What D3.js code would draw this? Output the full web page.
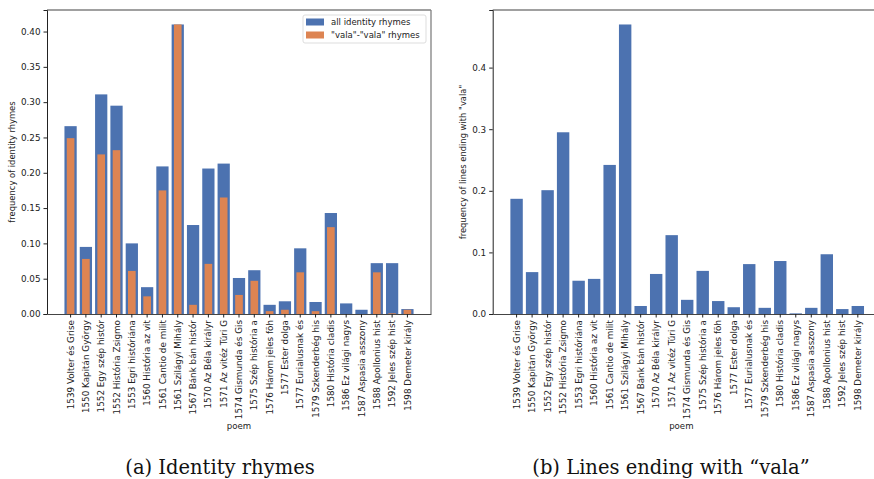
<!DOCTYPE html>
<html>
<head>
<meta charset="utf-8">
<script src="https://cdn.jsdelivr.net/npm/d3@7"></script>
<style>
  body { margin: 0; background: #fff; }
  svg { display: block; font-family: "DejaVu Sans", sans-serif; }
  .caption { font-family: "DejaVu Serif", "Liberation Serif", serif; font-size: 19.5px; fill: #111; }
</style>
</head>
<body>
<svg id="chart" width="874" height="479"></svg>
<script>
// poem titles (truncated as in the original figure)
const poems = [
  "1539 Volter és Grise", "1550 Kapitán György", "1552 Egy szép histór",
  "1552 História Zsigmo", "1553 Egri históriána", "1560 História az vit",
  "1561 Cantio de milit", "1561 Szilágyi Mihály", "1567 Bánk bán histór",
  "1570 Az Béla királyr", "1571 Az vitéz Túri G", "1574 Gismunda és Gis",
  "1575 Szép história a", "1576 Három jeles fõh", "1577 Ester dolga",
  "1577 Eurialusnak és", "1579 Szkenderbég his", "1580 História cladis",
  "1586 Ez világi nagys", "1587 Aspasia asszony", "1588 Apollonius hist",
  "1592 Jeles szép hist", "1598 Demeter király"
];

// (a) identity rhymes
const allIdentity = [0.266, 0.095, 0.311, 0.295, 0.100, 0.038, 0.209, 0.410, 0.126, 0.206, 0.213, 0.051,
  0.062, 0.013, 0.018, 0.093, 0.017, 0.143, 0.015, 0.006, 0.072, 0.072, 0.007];
const valaVala = [0.249, 0.078, 0.226, 0.232, 0.061, 0.025, 0.175, 0.410, 0.013, 0.071, 0.165, 0.027,
  0.047, 0.004, 0.006, 0.059, 0.004, 0.123, 0.0, 0.0, 0.059, 0.001, 0.006];

// (b) lines ending with "vala"
const valaEnding = [0.187, 0.068, 0.201, 0.295, 0.054, 0.057, 0.242, 0.470, 0.013, 0.065, 0.128, 0.023,
  0.070, 0.021, 0.011, 0.081, 0.010, 0.086, 0.001, 0.010, 0.097, 0.008, 0.013];

const yTicksA = [0, 0.05, 0.10, 0.15, 0.20, 0.25, 0.30, 0.35, 0.40];
const yTicksB = [0, 0.1, 0.2, 0.3, 0.4];

const BLUE = "#4c72b0", ORANGE = "#dd8452";

const svg = d3.select("#chart");

function panel(opts) {
  const { x0, x1, y0, y1, ymax, ticks, fmt, ylabel, ylabelX } = opts;
  const g = svg.append("g");

  const x = d3.scaleBand()
    .domain(poems)
    .range([x0, x1])
    .paddingInner(0.2)
    .paddingOuter(1.14);
  const y = d3.scaleLinear().domain([0, ymax]).range([y1, y0]);

  // bars
  opts.series.forEach(s => {
    const w = x.bandwidth() * s.rel;
    g.append("g").selectAll("rect")
      .data(s.values)
      .join("rect")
      .attr("x", (d, i) => x(poems[i]) + x.bandwidth() / 2 - w / 2)
      .attr("width", w)
      .attr("y", d => y(d))
      .attr("height", d => y(0) - y(d))
      .attr("fill", s.color);
  });

  // frame
  g.append("line").attr("x1", x0).attr("x2", x1).attr("y1", y0).attr("y2", y0)
    .attr("stroke", "#808080").attr("stroke-width", 1.3);
  g.append("line").attr("x1", x1).attr("x2", x1).attr("y1", y0).attr("y2", y1)
    .attr("stroke", "#808080").attr("stroke-width", 1.3);

  // y axis
  const ya = g.append("g")
    .attr("transform", `translate(${x0},0)`)
    .call(d3.axisLeft(y).tickValues(ticks).tickFormat(d3.format(fmt)).tickSize(3.5).tickPadding(3));
  ya.select(".domain").attr("stroke", "#222");
  ya.selectAll("text").attr("font-size", 8.8).attr("fill", "#222").attr("font-family", "DejaVu Sans");
  ya.selectAll(".tick line").attr("stroke", "#222");

  // x axis
  const xa = g.append("g")
    .attr("transform", `translate(0,${y1})`)
    .call(d3.axisBottom(x).tickSize(3.5).tickSizeOuter(0).tickPadding(3));
  xa.select(".domain").attr("stroke", "#444").attr("stroke-width", 1.2);
  xa.selectAll(".tick line").attr("stroke", "#222");
  xa.selectAll("text")
    .attr("font-size", 8.8)
    .attr("fill", "#222")
    .attr("font-family", "DejaVu Sans")
    .attr("text-anchor", "end")
    .attr("transform", "rotate(-90)")
    .attr("x", -6)
    .attr("y", 0)
    .attr("dy", "0.35em");

  g.append("text")
    .attr("x", (x0 + Math.min(x1, 874)) / 2 - (x1 > 874 ? 2 : 0))
    .attr("y", 429)
    .attr("text-anchor", "middle")
    .attr("font-size", 8.6)
    .attr("fill", "#222")
    .text("poem");

  g.append("text")
    .attr("transform", `translate(${ylabelX},${(y0 + y1) / 2}) rotate(-90)`)
    .attr("text-anchor", "middle")
    .attr("font-size", 8.4)
    .attr("fill", "#222")
    .text(ylabel);

  return { g, x, y };
}

const pa = panel({
  x0: 47, x1: 431, y0: 10, y1: 314, ymax: 0.41 * 1.05,
  ticks: yTicksA, fmt: ".2f",
  ylabel: "frequency of identity rhymes", ylabelX: 15,
  series: [
    { values: allIdentity, color: BLUE, rel: 1 },
    { values: valaVala, color: ORANGE, rel: 0.5 / 0.8 }
  ]
});

panel({
  x0: 492.7, x1: 881.7, y0: 10, y1: 314, ymax: 0.47 * 1.05,
  ticks: yTicksB, fmt: ".1f",
  ylabel: "frequency of lines ending with \"vala\"", ylabelX: 466,
  series: [{ values: valaEnding, color: BLUE, rel: 1 }]
});

// legend
const legendItems = [
  { label: "all identity rhymes", color: BLUE },
  { label: "\"vala\"-\"vala\" rhymes", color: ORANGE }
];
const lg = pa.g.append("g").attr("transform", "translate(303,15)");
lg.append("rect").attr("width", 123).attr("height", 28).attr("rx", 2)
  .attr("fill", "#fff").attr("fill-opacity", 0.8).attr("stroke", "#ddd");
legendItems.forEach((d, i) => {
  lg.append("rect").attr("x", 3).attr("y", 3.5 + i * 13).attr("width", 18).attr("height", 7).attr("fill", d.color);
  lg.append("text").attr("x", 28).attr("y", 7 + i * 13).attr("dy", "0.35em")
    .attr("font-size", 8.5).attr("fill", "#222").text(d.label);
});

// subfigure captions
svg.append("text").attr("class", "caption").attr("x", 220).attr("y", 474)
  .attr("text-anchor", "middle").text("(a) Identity rhymes");
svg.append("text").attr("class", "caption").attr("x", 671).attr("y", 474)
  .attr("text-anchor", "middle").text("(b) Lines ending with \u201cvala\u201d");
</script>
</body>
</html>
